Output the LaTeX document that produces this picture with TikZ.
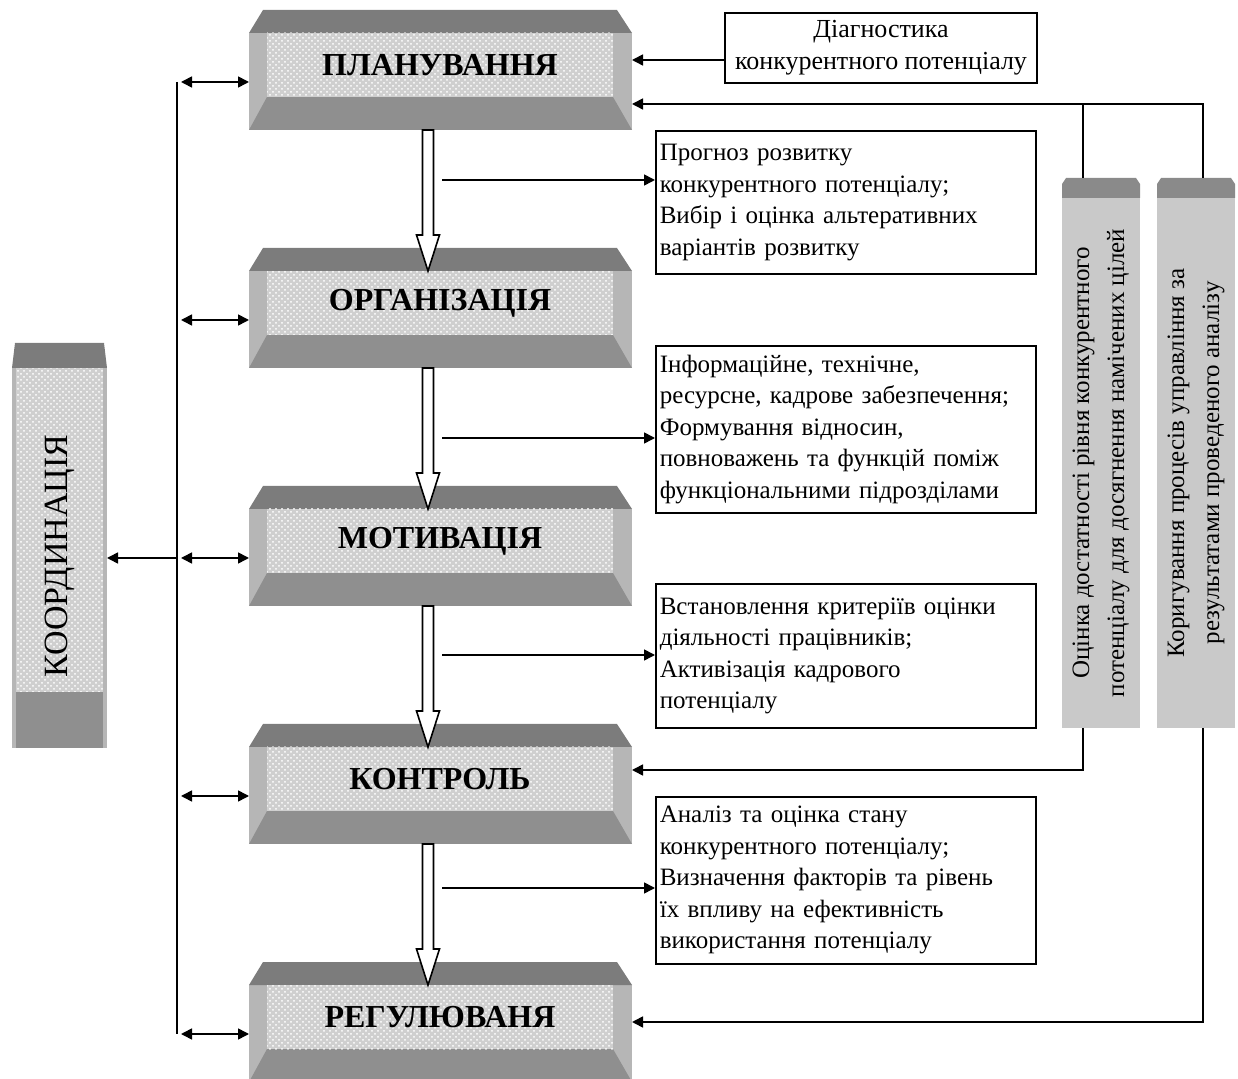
\documentclass[tikz,border=0pt]{standalone}
\usepackage{fontspec}
\setmainfont{Liberation Serif}
\usetikzlibrary{calc}
\usetikzlibrary{arrows.meta}
\usetikzlibrary{patterns}
\definecolor{TopGray}{HTML}{7C7C7C}
\definecolor{BotGray}{HTML}{8F8F8F}
\definecolor{SideGray}{HTML}{B6B6B6}
\definecolor{FaceGray}{HTML}{CFCFCF}
\definecolor{BodyGray}{HTML}{C9C9C9}
\definecolor{CapGray}{HTML}{8A8A8A}
\tikzset{
  face/.style={preaction={fill=FaceGray}, pattern=crosshatch dots, pattern color=white,
    minimum width=173pt, minimum height=32pt, inner sep=0pt, outer sep=0pt,
    font=\fontsize{16}{19}\selectfont\bfseries},
  txtbox/.style={draw, anchor=north west, inner sep=2pt, text width=186pt, align=left,
    font=\fontsize{12.5}{15.75}\selectfont},
  diagbox/.style={draw, align=center, minimum width=156pt, minimum height=35pt, inner sep=1pt,
    font=\fontsize{13}{16}\selectfont},
  vbody/.style={fill=BodyGray, minimum width=39pt, minimum height=265pt, inner sep=0pt, outer sep=0pt},
  vtext/.style={rotate=90, align=center, font=\fontsize{12.5}{17.5}\selectfont},
}
\begin{document}
\begin{tikzpicture}[x=0.5pt, y=-0.5pt, line width=0.8pt,
    >={Triangle[length=5.5pt,width=5.5pt]}]
  \useasboundingbox (0,0) rectangle (1238,1079);

  % stages
  \foreach \nm/\ty/\txt in {plan/10/ПЛАНУВАННЯ, org/248/ОРГАНІЗАЦІЯ, motiv/486/МОТИВАЦІЯ,
      kontr/724/КОНТРОЛЬ, reg/962/РЕГУЛЮВАНЯ}{%
    \fill[SideGray] (249,\ty+23) rectangle (632,\ty+120);
    \fill[TopGray] (263,\ty) -- (617,\ty) -- (632,\ty+23) -- (249,\ty+23) -- cycle;
    \fill[BotGray] (267,\ty+87) -- (613,\ty+87) -- (632,\ty+120) -- (249,\ty+120) -- cycle;
    \node[face] (\nm) at (440,\ty+55) {\txt};
    \coordinate (bus-\nm) at (177,\ty+72);
  }

  \foreach \a/\b in {plan/org, org/motiv, motiv/kontr, kontr/reg}{%
    \draw[fill=white] ($(\a.south)+(-17.5,33)$) -- ($(\b.north)+(-17.5,-36)$)
      -- ($(\b.north)+(-23.5,-36)$) -- ($(\b.north)+(-12,0)$) -- ($(\b.north)+(-0.5,-36)$)
      -- ($(\b.north)+(-6.5,-36)$) -- ($(\a.south)+(-6.5,33)$) -- cycle;
  }

  % coordination
  \node[fill=SideGray, minimum width=47.5pt, minimum height=190pt, inner sep=0pt, outer sep=0pt]
    (koord) at (59.5,558) {};
  \fill[FaceGray] ($(koord.north west)+(4,0)$) rectangle ($(koord.north east)+(-4,324)$);
  \fill[pattern=crosshatch dots, pattern color=white] ($(koord.north west)+(4,0)$)
    rectangle ($(koord.north east)+(-4,324)$);
  \fill[BotGray] ($(koord.north west)+(4,324)$) rectangle ($(koord.south east)+(-4,0)$);
  \fill[TopGray] ($(koord.north west)+(3,-25)$) -- ($(koord.north east)+(-3,-25)$)
    -- (koord.north east) -- (koord.north west) -- cycle;
  \node[rotate=90, font=\fontsize{17}{20}\selectfont] (koordtxt) at ($(koord.center)+(0,-2)$) {КООРДИНАЦІЯ};

  \draw (bus-plan) -- (bus-reg);
  \foreach \nm in {plan,org,motiv,kontr,reg}
    \draw[<->, shorten <=2pt] (bus-\nm) -- ($(bus-\nm -| \nm.west)+(-18,0)$);
  \draw[->] (bus-motiv) -- (koord.east);

  % descriptions
  \node[txtbox, minimum height=71.5pt] (txtA) at (655,130) {Прогноз розвитку\\
    конкурентного потенціалу;\\ Вибір і оцінка альтеративних\\ варіантів розвитку};
  \node[txtbox, minimum height=83.5pt] (txtB) at (655,345) {Інформаційне, технічне,\\
    ресурсне, кадрове забезпечення;\\ Формування відносин,\\
    повноважень та функцій поміж\\ функціональними підрозділами};
  \node[txtbox, minimum height=72pt] (txtC) at (655,583) {Встановлення критеріїв  оцінки\\
    діяльності працівників;\\ Активізація кадрового\\ потенціалу};
  \node[txtbox, minimum height=83.5pt] (txtD) at (655,796) {Аналіз та оцінка стану\\
    конкурентного потенціалу;\\ Визначення факторів та рівень\\
    їх впливу на ефективність\\ використання потенціалу};

  \coordinate (sA) at (442,180);
  \coordinate (sB) at (442,438);
  \coordinate (sC) at (442,655);
  \coordinate (sD) at (442,888);
  \foreach \s/\t in {sA/txtA, sB/txtB, sC/txtC, sD/txtD}
    \draw[->] (\s) -- (\s -| \t.west);

  \node[diagbox] (diag) at (881,48) {Діагностика\\конкурентного потенціалу};
  \draw[->] ($(diag.west)+(0,12)$) -- ($(plan.east)+(19,-5)$);

  % feedback
  \node[vbody] (ocin) at (1101,463) {};
  \node[vbody] (koryg) at (1196,463) {};
  \foreach \nm in {ocin,koryg}
    \fill[CapGray] (\nm.north west) -- ($(\nm.north west)+(0,-14)$) -- ($(\nm.north west)+(4,-20)$)
      -- ($(\nm.north east)+(-4,-20)$) -- ($(\nm.north east)+(0,-14)$) -- (\nm.north east) -- cycle;
  \node[vtext] (ocintxt) at (ocin) {Оцінка достатності рівня конкурентного\\
    потенціалу для досягнення намічених цілей};
  \node[vtext] (korygtxt) at (koryg) {Коригування процесів управління за\\
    результатами проведеного аналізу};

  \coordinate (fbT) at ($(plan.east)+(19,39)$);
  \draw[->] ($(koryg.north)+(7,-20)$) |- (fbT);
  \draw ($(ocin.north)+(-18,-20)$) coordinate (oT) -- (oT |- fbT);
  \draw[->] ($(ocin.south)+(-18,0)$) |- ($(kontr.east)+(19,-9)$);
  \draw[->] ($(koryg.south)+(7,0)$) |- ($(reg.east)+(19,5)$);
\end{tikzpicture}
\end{document}
